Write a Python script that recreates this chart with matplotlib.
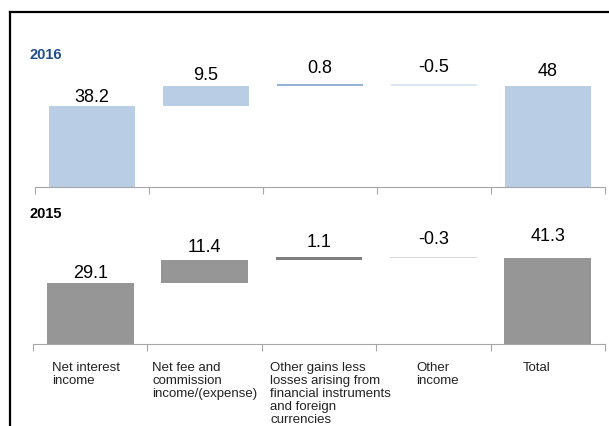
import matplotlib.pyplot as plt
from matplotlib.lines import Line2D

categories = ["Net interest\nincome",
              "Net fee and\ncommission\nincome/(expense)",
              "Other gains less\nlosses arising from\nfinancial instruments\nand foreign\ncurrencies",
              "Other\nincome",
              "Total"]
values_2016 = [38.2, 9.5, 0.8, -0.5, 48]
values_2015 = [29.1, 11.4, 1.1, -0.3, 41.3]
labels_2016 = ["38.2", "9.5", "0.8", "-0.5", "48"]
labels_2015 = ["29.1", "11.4", "1.1", "-0.3", "41.3"]

plt.rcParams['font.family'] = ['Liberation Sans', 'DejaVu Sans']

W, H = 609, 427
fig = plt.figure(figsize=(W / 100, H / 100), dpi=100)


def px_axes(x0, x1, y_top, y_bot):
    return fig.add_axes([x0 / W, 1 - y_bot / H, (x1 - x0) / W, (y_bot - y_top) / H])


def waterfall(ax, vals, labels, colors, offsets):
    # running totals; last bar is the total from zero
    bottoms, heights = [], []
    run = 0
    for i, v in enumerate(vals):
        if i == len(vals) - 1:
            bottoms.append(0)
            heights.append(v)
        elif v >= 0:
            bottoms.append(run)
            heights.append(v)
            run += v
        else:
            bottoms.append(run + v)
            heights.append(-v)
            run += v
    xs = range(len(vals))
    ax.bar(xs, heights, bottom=bottoms, width=0.76, color=colors, edgecolor='none')
    for x, b, h, lab, off in zip(xs, bottoms, heights, labels, offsets):
        ax.annotate(lab, (x, b + h), xytext=(0, off), textcoords='offset pixels',
                    ha='center', va='center', fontsize=13, color='black')
    ax.set_xlim(-0.5, len(vals) - 0.5)
    ax.set_ylim(0, 70)
    ax.set_xticks([i - 0.5 for i in range(len(vals) + 1)])
    ax.set_xticklabels([])
    ax.set_yticks([])
    for s in ['top', 'left', 'right']:
        ax.spines[s].set_visible(False)
    ax.spines['bottom'].set_color('#a6a6a6')
    ax.tick_params(axis='x', direction='out', length=5, color='#a6a6a6')
    ax.patch.set_alpha(0)


ax1 = px_axes(35, 605, 40, 188)
waterfall(ax1, values_2016, labels_2016,
          ['#b9cde5', '#b9cde5', '#95b3d7', '#dce6f2', '#b9cde5'],
          [10, 12, 17, 18, 15])
ax2 = px_axes(33, 605, 199, 345)
waterfall(ax2, values_2015, labels_2015,
          ['#969696', '#969696', '#7f7f7f', '#d9d9d9', '#969696'],
          [11, 13, 16, 19, 22])

fig.text(30 / W, 1 - 55 / H, "2016", fontsize=10.5, fontweight='bold',
         color='#1f4e8c', va='center')
fig.text(30 / W, 1 - 214 / H, "2015", fontsize=10.5, fontweight='bold',
         color='black', va='center')

# category names under the lower axis, nudged the way the text boxes sit
nudge = [-0.035, 0, 0.1, 0.035, -0.1]
for i, name in enumerate(categories):
    ax2.text(i + nudge[i], -0.115, name, transform=ax2.get_xaxis_transform(),
             ha='center', va='top', ma='left', fontsize=9.5, linespacing=1.12,
             color='#222222')

# outer frame
fig.add_artist(Line2D([10 / W, 1], [1 - 13 / H, 1 - 13 / H], color='black', lw=1.6))
fig.add_artist(Line2D([10 / W, 10 / W], [0, 1 - 13 / H], color='black', lw=1.6))

fig.savefig("out.png", dpi=100)
